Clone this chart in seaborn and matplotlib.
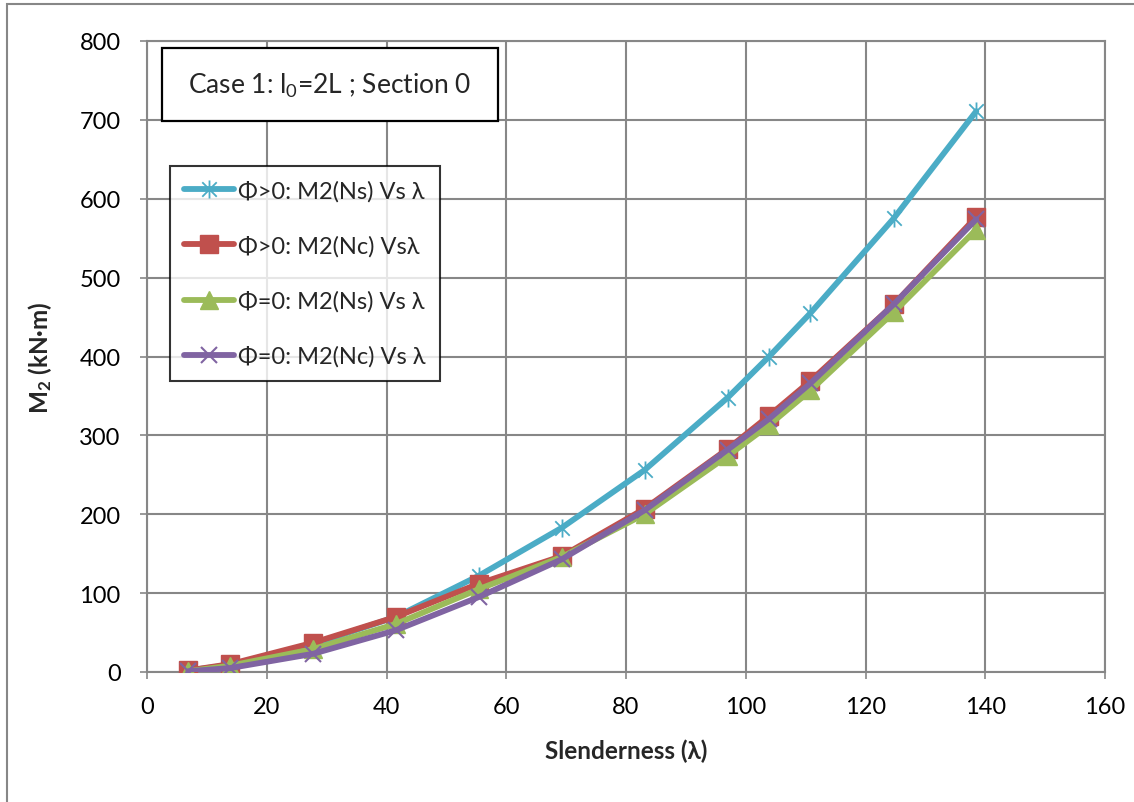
import numpy as np
import pandas as pd
import matplotlib
matplotlib.use("Agg")
import matplotlib.pyplot as plt
from matplotlib.path import Path
from matplotlib.lines import Line2D
from matplotlib.patches import Rectangle
import seaborn as sns

# ---------------- data ----------------
slenderness = [6.9, 13.9, 27.7, 41.6, 55.4, 69.3, 83.1, 97.0, 103.9, 110.8, 124.7, 138.5]
m2_phi_pos_ns = [2, 9, 35, 70, 122, 183, 256, 348, 400, 455, 575, 711]
m2_phi_pos_nc = [2, 10, 37, 70, 112, 147, 207, 283, 325, 369, 466, 577]
m2_phi_zero_ns = [1, 8, 29, 61, 105, 146, 200, 274, 313, 357, 456, 561]
m2_phi_zero_nc = [1, 5, 23, 53, 95, 143, 205, 282, 321, 366, 466, 574]

series_labels = ["Φ>0: M2(Ns) Vs λ", "Φ>0: M2(Nc) Vsλ", "Φ=0: M2(Ns) Vs λ", "Φ=0: M2(Nc) Vs λ"]
x_ticks = [0, 20, 40, 60, 80, 100, 120, 140, 160]
y_ticks = [0, 100, 200, 300, 400, 500, 600, 700, 800]
x_label = "Slenderness (λ)"
y_label = r"M$_\mathregular{2}$ (kN·m)"
title_text = r"Case 1: l$_\mathregular{0}$=2L ; Section 0"

# ---------------- style ----------------
sns.set_theme(style="white")
plt.rcParams['font.family'] = ['Lato', 'DejaVu Sans']
plt.rcParams['mathtext.default'] = 'regular'

colors = ["#4BACC6", "#C0504D", "#9BBB59", "#8064A2"]
star = Path([(0, -1), (0, 1), (-0.8, -0.8), (0.8, 0.8), (-0.8, 0.8), (0.8, -0.8)],
            [Path.MOVETO, Path.LINETO, Path.MOVETO, Path.LINETO, Path.MOVETO, Path.LINETO])
markers = [star, "s", "^", "x"]
msizes = [13, 12.5, 13.5, 11]
mew = [1.3, 1, 1, 1.5]
grid_col = "#878787"

fig = plt.figure(figsize=(11.34, 8.03), dpi=100)
ax = fig.add_axes([147/1134, 1-673/803, (1105-147)/1134, (673-42)/803])

all_y = [m2_phi_pos_ns, m2_phi_pos_nc, m2_phi_zero_ns, m2_phi_zero_nc]
for i, (yv, lab) in enumerate(zip(all_y, series_labels)):
    df = pd.DataFrame({"x": slenderness, "y": yv})
    sns.lineplot(data=df, x="x", y="y", ax=ax, color=colors[i], lw=4.2,
                 marker=markers[i], markersize=msizes[i], markeredgewidth=mew[i],
                 markeredgecolor=colors[i], markerfacecolor=colors[i],
                 sort=False, label=lab, zorder=3 + i, legend=False)

ax.set_xlim(0, 160)
ax.set_ylim(0, 800)
ax.set_xticks(x_ticks)
ax.set_yticks(y_ticks)
ax.set_xticklabels([str(t) for t in x_ticks])
ax.set_yticklabels([str(t) for t in y_ticks])
ax.grid(True, color=grid_col, lw=1.5)
ax.set_axisbelow(True)
for s in ax.spines.values():
    s.set_color(grid_col)
    s.set_linewidth(1.5)
ax.tick_params(axis='both', which='both', direction='out', length=5, width=1.2,
               color=grid_col, labelsize=17, labelcolor="black")
ax.tick_params(axis='y', pad=14)
ax.tick_params(axis='x', pad=12)
ax.tick_params(axis='both', left=True, bottom=True)

ax.set_xlabel(x_label, fontsize=17.5, fontweight="bold", labelpad=16)
ax.set_ylabel(y_label, fontsize=17.5, fontweight="bold", labelpad=18)

# legend
handles = [Line2D([0], [0], color=colors[i], lw=4.2, marker=markers[i],
                  markersize=msizes[i], markeredgewidth=mew[i],
                  markeredgecolor=colors[i], markerfacecolor=colors[i])
           for i in range(4)]
leg = ax.legend(handles, series_labels, loc="upper left",
                bbox_to_anchor=((170-147)/958, (673-167)/631), borderaxespad=0,
                fontsize=17, frameon=True, fancybox=False, handlelength=2.1,
                handletextpad=0.2, labelspacing=1.42, borderpad=0.6)
leg.get_frame().set_edgecolor("black")
leg.get_frame().set_linewidth(1.5)
leg.set_zorder(20)

# title box
bx0, bx1 = (162-147)/958, (498-147)/958
by0, by1 = (673-122)/631, (673-49)/631
ax.add_patch(Rectangle((bx0, by0), bx1-bx0, by1-by0, transform=ax.transAxes,
                       facecolor="white", edgecolor="black", lw=1.6, zorder=20, clip_on=False))
ax.text((bx0+bx1)/2, (by0+by1)/2, title_text, transform=ax.transAxes, ha="center",
        va="center", fontsize=19, zorder=21)

# outer chart border
fig.patches.append(Rectangle((7/1134, -0.05), 1.2, 1-5/803+0.05, transform=fig.transFigure,
                             facecolor="none", edgecolor=grid_col, lw=1.5))

fig.savefig("out.png", dpi=100)
